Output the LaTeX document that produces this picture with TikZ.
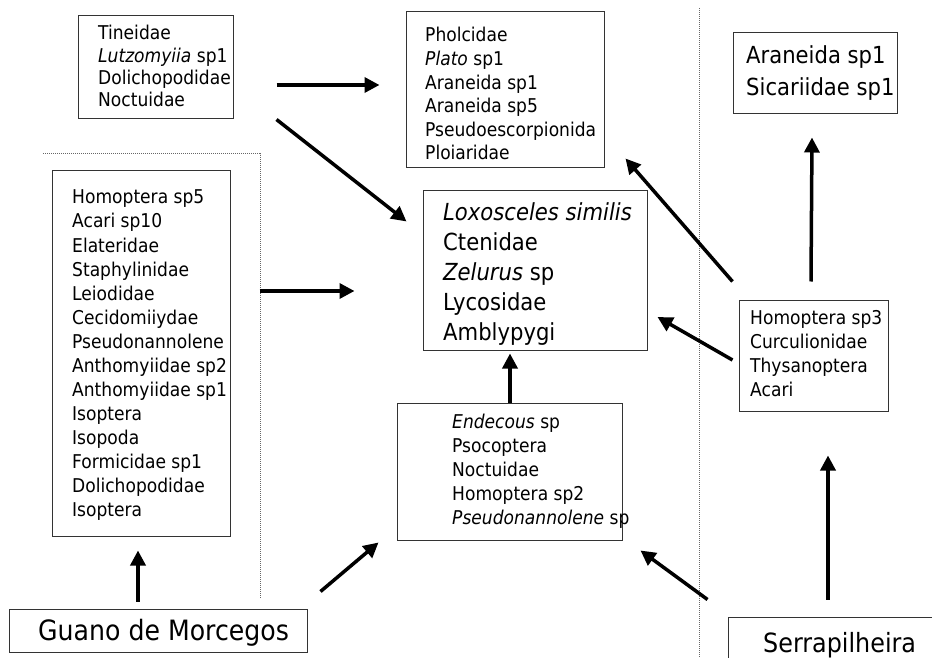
\documentclass[tikz,border=0pt]{standalone}
\usepackage{fontspec}
\setmainfont{DejaVu Sans}[FakeStretch=0.9]
\usetikzlibrary{arrows.meta}
\newcommand\myfs[2]{\fontsize{#1}{#2}\selectfont}
\tikzset{
  box/.style={draw=black!80, line width=1pt, inner sep=0pt, rectangle},
  txt/.style={anchor=north west, inner sep=0pt, align=left},
  arr/.style={line width=3.5pt, -{Triangle[length=15pt,width=15pt]}},
  dots/.style={line width=1pt, black!60, dash pattern=on 1pt off 1pt}
}
\begin{document}
\begin{tikzpicture}[x=1pt,y=-1pt]
\useasboundingbox (0,0) rectangle (932,658);
% boxes
\node[box, minimum width=155pt, minimum height=103pt] (tl) at (155.5,67.5) {};
\node[box, minimum width=198pt, minimum height=156pt] (tc) at (505,90) {};
\node[box, minimum width=224pt, minimum height=160pt] (ctr) at (535,270) {};
\node[box, minimum width=178pt, minimum height=365pt] (lft) at (141,353.5) {};
\node[box, minimum width=225pt, minimum height=137pt] (bc) at (509.5,471.5) {};
\node[box, minimum width=149pt, minimum height=111pt] (hom) at (813.5,355.5) {};
\node[box, minimum width=164pt, minimum height=81pt] (tr) at (815,73.5) {};
\node[box, minimum width=298pt, minimum height=43pt] (guano) at (158,630.5) {};
\node[box, minimum width=212pt, minimum height=53pt] (serra) at (834,643.5) {};
% texts
\node[txt, font=\myfs{19}{22.3}] (tlt) at (98,24.4) {\rule{0pt}{15.2pt}Tineidae\\\textit{Lutzomyiia} sp1\\Dolichopodidae\\Noctuidae};
\node[txt, font=\myfs{19}{23.6}] (tct) at (425,26.5) {\rule{0pt}{15.2pt}Pholcidae\\\textit{Plato} sp1\\Araneida sp1\\Araneida sp5\\Pseudoescorpionida\\Ploiaridae};
\node[txt, font=\myfs{23.5}{30}] (ctrt) at (443,201.4) {\rule{0pt}{18.8pt}\textit{Loxosceles similis}\\Ctenidae\\\textit{Zelurus} sp\\Lycosidae\\Amblypygi};
\node[txt, font=\myfs{19}{24.08}] (lftt) at (72,188.5) {\rule{0pt}{15.2pt}Homoptera sp5\\Acari sp10\\Elateridae\\Staphylinidae\\Leiodidae\\Cecidomiiydae\\Pseudonannolene\\Anthomyiidae sp2\\Anthomyiidae sp1\\Isoptera\\Isopoda\\Formicidae sp1\\Dolichopodidae\\Isoptera};
\node[txt, font=\myfs{19}{24}] (bct) at (452,413.5) {\rule{0pt}{15.2pt}\textit{Endecous} sp\\Psocoptera\\Noctuidae\\Homoptera sp2\\\textit{Pseudonannolene} sp};
\node[txt, font=\myfs{19}{24}] (homt) at (750,309.5) {\rule{0pt}{15.2pt}Homoptera sp3\\Curculionidae\\Thysanoptera\\Acari};
\node[txt, font=\myfs{23.5}{32}] (trt) at (746,44.4) {\rule{0pt}{18.8pt}Araneida sp1\\Sicariidae sp1};
\node[txt, font=\myfs{28}{32}] (guanot) at (38,617.4) {\rule{0pt}{22.4pt}Guano de Morcegos};
\node[txt, font=\myfs{26.5}{32}] (serrat) at (763,631.3) {\rule{0pt}{21.2pt}Serrapilheira};
% dotted separators
\draw[dots] (43,154) -- (260,154) -- (260,598);
\draw[dots] (699,8) -- (699,658);
% arrows
\draw[arr] ([xshift=43pt,yshift=-17.5pt]tl.east) -- ([xshift=-26pt,yshift=5pt]tc.west);
\draw[arr] ([xshift=43pt]tl.south east) -- ([xshift=-16pt,yshift=-32pt]ctr.north west);
\draw[arr] ([xshift=29pt,yshift=62.5pt]lft.east) -- ([xshift=-68pt,yshift=-21pt]ctr.west);
\draw[arr] ([xshift=-20pt,yshift=7pt]guano.north) -- ([xshift=-3pt,yshift=-14pt]lft.south);
\draw[arr] ([xshift=13pt,yshift=17pt]guano.north east) -- ([xshift=-18pt,yshift=-2pt]bc.south west);
\draw[arr] ([xshift=0.5pt]bc.north) -- ([xshift=-25pt,yshift=-3pt]ctr.south);
\draw[arr] ([xshift=-20pt,yshift=17pt]serra.north west) -- ([xshift=18pt,yshift=-10pt]bc.south east);
\draw[arr] ([xshift=-6pt,yshift=17pt]serra.north) -- ([xshift=14.5pt,yshift=-44pt]hom.south);
\draw[arr] ([xshift=-6pt,yshift=-4.5pt]hom.west) -- ([xshift=10pt,yshift=-47pt]ctr.east);
\draw[arr] ([xshift=-6pt,yshift=18pt]hom.north west) -- ([xshift=21pt,yshift=10pt]tc.south east);
\draw[arr] ([xshift=-2.5pt,yshift=18pt]hom.north) -- ([xshift=-3pt,yshift=-23pt]tr.south);
\end{tikzpicture}
\end{document}
